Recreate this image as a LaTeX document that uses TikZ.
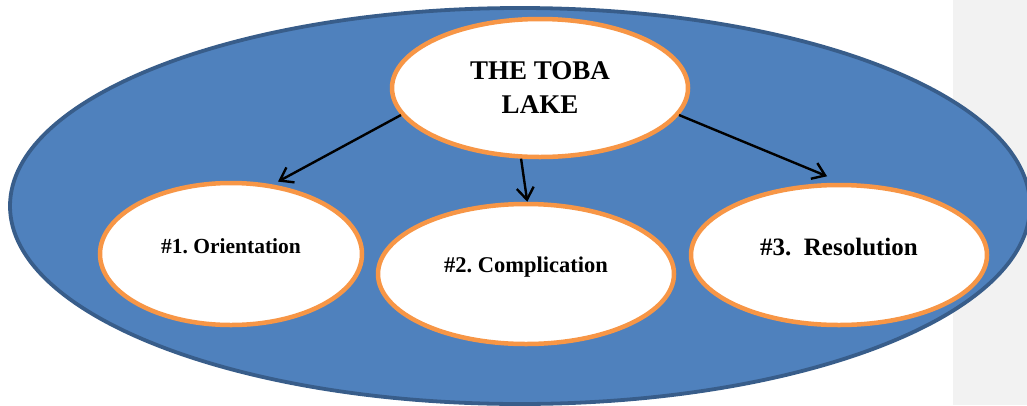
\documentclass[tikz,border=0pt]{standalone}
\usepackage{fontspec}
\setmainfont{Liberation Serif}
\usetikzlibrary{arrows.meta,shapes.geometric}
\definecolor{lakeblue}{HTML}{4F81BD}
\definecolor{lakeedge}{HTML}{385D8A}
\definecolor{ringorange}{HTML}{F79646}
\definecolor{panelgrey}{HTML}{F2F2F2}
\tikzset{
  bubble/.style={ellipse, draw=ringorange, line width=4.5pt, fill=white, inner sep=0pt, align=center},
  label text/.style={inner sep=0pt, font=\bfseries},
  flow/.style={black, line width=2.4pt, -{Straight Barb[length=12pt,width=17pt]}}
}
\frenchspacing
\begin{document}
\begin{tikzpicture}[x=1pt,y=-1pt]
\useasboundingbox (0,0) rectangle (1027,405);
\clip (0,0) rectangle (1027,405);
\fill[panelgrey] (953,0) rectangle (1027,405);
\draw[lakeedge, line width=3.8pt, fill=lakeblue] (520,206) ellipse [x radius=510, y radius=198];

\node[bubble, minimum width=296pt, minimum height=138pt, font=\bfseries\fontsize{27}{34}\selectfont] (lake) at (540,88) {THE TOBA\\LAKE};

\node[bubble, minimum width=262pt, minimum height=142pt] (orient) at (231,254) {};
\node[label text, font=\bfseries\fontsize{21.5}{26}\selectfont] (orientText) at (231,246) {\#1. Orientation};

\node[bubble, minimum width=296pt, minimum height=140pt] (compl) at (526,274) {};
\node[label text, font=\bfseries\fontsize{22.5}{27}\selectfont] (complText) at (526,267) {\#2. Complication};

\node[bubble, minimum width=296pt, minimum height=140pt] (resol) at (839,255) {};
\node[label text, font=\bfseries\fontsize{25}{30}\selectfont] (resolText) at (839,247) {\#3.~~Resolution};

\draw[flow, shorten >=6pt] (lake.191.9) -- (orient.59.5);
\draw[flow] (lake.255) -- (compl.89);
\draw[flow, shorten >=17pt] (lake.349.1) -- (resol.87.5);
\end{tikzpicture}
\end{document}
